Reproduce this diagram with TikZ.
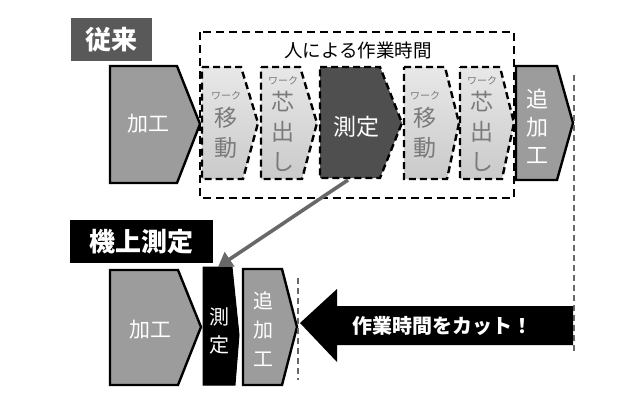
\documentclass[tikz,border=0pt]{standalone}
\usepackage{fontspec}
\usetikzlibrary{arrows.meta}
\setmainfont{Noto Sans CJK JP}
\begin{document}
\begin{tikzpicture}[x=1pt,y=-1pt,
  solidbox/.style={fill=midgray,draw=black,line width=2.4pt,line join=miter},
  dashbox/.style={draw=black,line width=2.4pt,dash pattern=on 7pt off 4pt,top color=lightA,bottom color=lightB},
  darkbox/.style={fill=darkgray5,draw=black,line width=2.4pt,dash pattern=on 7pt off 4pt},
  whitetxt/.style={text=white,font=\fontsize{21}{28}\selectfont,align=center,inner sep=0pt},
  graytxt/.style={text=txtgray,font=\fontsize{23}{30}\selectfont,align=center,inner sep=0pt},
  smalltxt/.style={text=txtgray,font=\fontsize{10}{12}\selectfont,inner sep=0pt},
  guide/.style={draw=guidegray,line width=1.8pt,dash pattern=on 6pt off 4pt}
]
\definecolor{midgray}{HTML}{9C9C9C}
\definecolor{darkgray5}{HTML}{4F4F4F}
\definecolor{lightA}{HTML}{E8E8E8}
\definecolor{lightB}{HTML}{CACACA}
\definecolor{txtgray}{HTML}{7A7A7A}
\definecolor{guidegray}{HTML}{686868}
\definecolor{labelgray}{HTML}{595959}
\useasboundingbox (0,0) rectangle (640,400);

% ---- top row ----
\node[fill=labelgray,minimum width=81pt,minimum height=43pt,text=white,font=\fontsize{26}{30}\selectfont\bfseries] (lab1) at (111.5,39.5) {従来};
\draw[black,line width=2.8pt,dash pattern=on 8pt off 5pt] (200,32) rectangle (514,198);
\node[font=\fontsize{18.5}{22}\selectfont,inner sep=0pt] (title) at (358,50) {人による作業時間};

\draw[solidbox] (110,66) -- (177,66) -- (200,124) -- (177,183) -- (110,183) -- cycle;
\node[whitetxt] (k1) at (148,124) {加工};

\draw[dashbox] (202,67) -- (241,67) -- (258,123) -- (243,179) -- (202,179) -- cycle;
\node[smalltxt] (w1) at (226,96) {ワーク};
\node[graytxt] (i1) at (226,133) {移\\動};

\draw[dashbox] (261,67) -- (300,67) -- (317,123) -- (302,179) -- (261,179) -- cycle;
\node[smalltxt] (w2) at (283,81) {ワーク};
\node[graytxt] (s1) at (283,131) {芯\\出\\し};

\draw[darkbox] (320,67) -- (380,67) -- (402,123) -- (380,178) -- (320,178) -- cycle;
\node[whitetxt,font=\fontsize{23}{28}\selectfont] (m1) at (356,127) {測定};
\coordinate (m1s) at (348,180);

\draw[dashbox] (404,67) -- (445,67) -- (459,123) -- (447,179) -- (404,179) -- cycle;
\node[smalltxt] (w3) at (425,96) {ワーク};
\node[graytxt] (i2) at (425,133) {移\\動};

\draw[dashbox] (460,67) -- (500,67) -- (514,123) -- (502,179) -- (460,179) -- cycle;
\node[smalltxt] (w4) at (482,81) {ワーク};
\node[graytxt] (s2) at (482,131) {芯\\出\\し};

\draw[solidbox] (516,66) -- (557,66) -- (573,123) -- (557,180) -- (516,180) -- cycle;
\node[whitetxt,font=\fontsize{22}{28}\selectfont] (t1) at (537,126) {追\\加\\工};

\coordinate (g1a) at (574,75);
\coordinate (g1b) at (574,353);
\draw[guide] (g1a) -- (g1b);

% ---- bottom row ----
\node[fill=black,minimum width=143pt,minimum height=43pt,text=white,font=\fontsize{26}{30}\selectfont\bfseries] (lab2) at (141.5,241.5) {機上測定};

\draw[solidbox] (110,270) -- (178,270) -- (201,327) -- (178,385) -- (110,385) -- cycle;
\node[whitetxt] (k2) at (150,330) {加工};

\draw[fill=black,draw=black,line width=1pt] (203,267) -- (232,267) -- (239,335) -- (235,385) -- (203,385) -- cycle;
\node[whitetxt,font=\fontsize{20}{28}\selectfont] (m2) at (219,331) {測\\定};
\coordinate (m2t) at (218,267);

\draw[solidbox] (243,269) -- (282,269) -- (297,327) -- (282,385) -- (243,385) -- cycle;
\node[whitetxt,font=\fontsize{20}{29}\selectfont] (t2) at (263,329) {追\\加\\工};

\coordinate (g2a) at (298,278);
\coordinate (g2b) at (298,380);
\draw[guide] (g2a) -- (g2b);

% big black arrow
\fill[black] (300,323) -- (337,289) -- (337,306) -- (573,306) -- (573,345) -- (337,345) -- (337,362) -- cycle;
\node[text=white,font=\fontsize{20}{24}\selectfont\bfseries,inner sep=0pt] (cut) at (442,326) {作業時間をカット！};

% gray connector
\draw[guidegray,line width=3.6pt,-{Triangle[length=14pt,width=17pt]}] (m1s) -- (m2t);
\end{tikzpicture}
\end{document}
